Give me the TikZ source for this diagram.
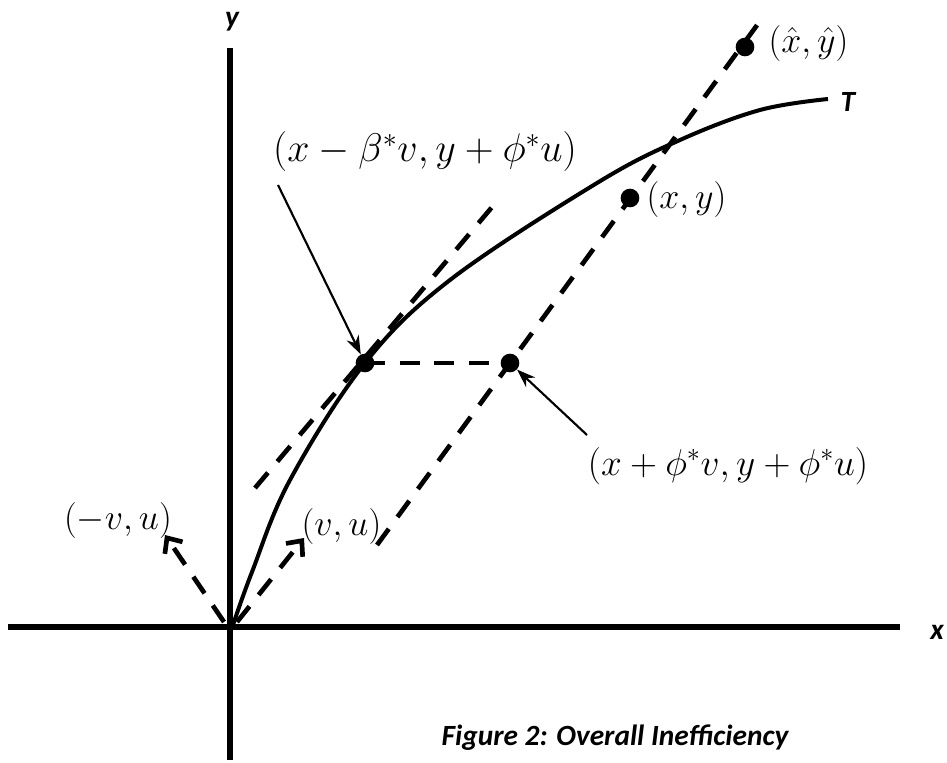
\RequirePackage{fix-cm}
\documentclass[tikz,border=0pt]{standalone}
\usepackage{fontspec}
\setsansfont{Carlito}
\usetikzlibrary{arrows.meta}
\begin{document}
\begin{tikzpicture}[x=0.75pt,y=-0.75pt,
  axis/.style={line width=3.8pt},
  curveT/.style={line width=3pt},
  dashline/.style={line width=3.5pt,dash pattern=on 15pt off 11pt},
  dot/.style={circle,fill=black,inner sep=0pt,minimum size=14pt},
  pointer/.style={line width=1.6pt,-{Stealth[length=14pt,width=10pt]}},
  vecarrow/.style={line width=3.5pt,dash pattern=on 15pt off 11pt,-{Straight Barb[length=9pt,width=16pt,line width=3.5pt]}},
  mlabel/.style={font=\fontsize{27}{32}\selectfont,inner sep=1pt},
  biglabel/.style={font=\fontsize{30}{35}\selectfont,inner sep=1pt},
  axlabel/.style={font=\sffamily\bfseries\itshape\fontsize{22}{26}\selectfont,inner sep=0pt}]
\useasboundingbox (0,0) rectangle (947,763);
% axes
\coordinate (xl) at (8,627);
\coordinate (xr) at (900,627);
\coordinate (yb) at (230,760);
\coordinate (yt) at (230,48);
\draw[axis] (xl) -- (xr);
\draw[axis] (yb) -- (yt);
\node[axlabel] (ylab) at (232,22) {y};
\node[axlabel] (xlab) at (937,632) {x};
% frontier T
\draw[curveT] plot[smooth,tension=0.6] coordinates {(233,625) (252,572) (290,480) (365,363) (450,280) (597,183) (680,140) (760,110) (828,99)};
\node[axlabel] (Tlab) at (848,102) {T};
% dots
\node[dot] (A) at (365,363) {};
\node[dot] (B) at (510,363) {};
\node[dot] (C) at (630,198) {};
\node[dot] (D) at (745,47) {};
% dashed lines
\coordinate (l1a) at (255,488);
\coordinate (l1b) at (498,200);
\draw[dashline] (l1a) -- (l1b);
\coordinate (l2a) at (377,545);
\coordinate (l2b) at (763,17);
\draw[dashline] (l2a) -- (l2b);
\draw[dashline] (A.center) -- (B.center);
% direction vectors
\coordinate (O1) at (224,622);
\coordinate (O2) at (237,622);
\coordinate (vm) at (165,535);
\coordinate (vp) at (304,538);
\draw[vecarrow] (O1) -- (vm);
\draw[vecarrow] (O2) -- (vp);
% labels
\node[biglabel] (labA) at (425,152) {$(x-\beta^*v,y+\phi^*u)$};
\node[mlabel,font=\fontsize{28}{33}\selectfont] (labB) at (728,466) {$(x+\phi^*v,y+\phi^*u)$};
\node[mlabel,anchor=west] (labC) at (645,200) {$(x,y)$};
\node[mlabel,anchor=west] (labD) at (767,44) {$(\hat{x},\hat{y})$};
\node[mlabel] (labvm) at (118,520) {$(-v,u)$};
\node[mlabel,anchor=west] (labvp) at (300,527) {$(v,u)$};
% pointers
\coordinate (p1s) at (278,185);
\coordinate (p2s) at (587,435);
\draw[pointer] (p1s) -- (A);
\draw[pointer] (p2s) -- (B);
% title
\node[font=\sffamily\bfseries\itshape\fontsize{22}{26}\selectfont] (title) at (615,738) {Figure 2: Overall Inefficiency};
\end{tikzpicture}
\end{document}
